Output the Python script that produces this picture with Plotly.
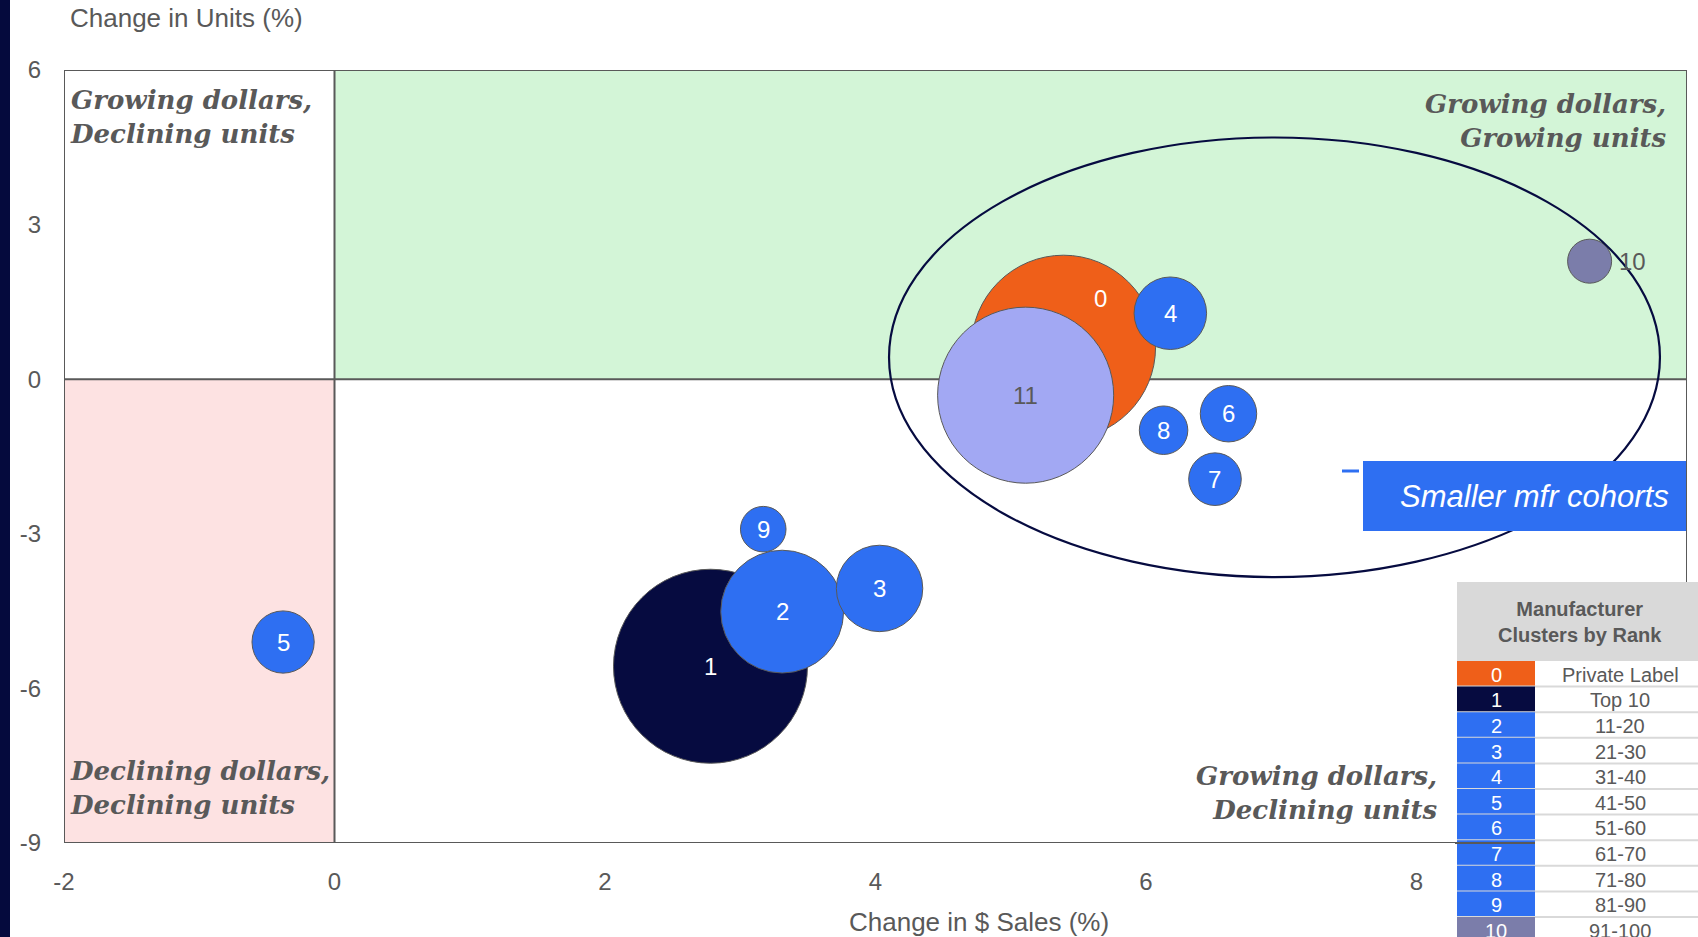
import math
import plotly.graph_objects as go

# ---- data -------------------------------------------------------------
cohort_ids = ["0", "1", "2", "3", "4", "5", "6", "7", "8", "9", "10", "11"]
sales_change = [5.39, 2.78, 3.31, 4.03, 6.18, -0.38, 6.61, 6.51, 6.13, 3.17, 9.28, 5.11]
units_change = [0.62, -5.57, -4.51, -4.06, 1.28, -5.10, -0.67, -1.94, -0.99, -2.91, 2.29, -0.31]
dollar_share = [24.5, 27.2, 10.9, 5.4, 3.8, 2.8, 2.3, 2.0, 1.7, 1.5, 1.4, 22.4]

legend_codes = ["0", "1", "2", "3", "4", "5", "6", "7", "8", "9", "10"]
legend_ranks = ["Private Label", "Top 10", "11-20", "21-30", "31-40", "41-50",
                "51-60", "61-70", "71-80", "81-90", "91-100"]

x_ticks = [-2, 0, 2, 4, 6, 8]
x_tick_text = ["-2", "0", "2", "4", "6", "8"]
y_ticks = [-9, -6, -3, 0, 3, 6]
y_tick_text = ["-9", "-6", "-3", "0", "3", "6"]

# ---- styling ----------------------------------------------------------
ORANGE = "#EF5F19"
NAVY = "#060B40"
BLUE = "#2E6FF2"
SLATE = "#7B7DAA"
LAVENDER = "#A2A8F3"
GREY = "#595959"
FONT = "Liberation Sans"
SERIF = "DejaVu Serif"

cohort_colors = {"0": ORANGE, "1": NAVY, "10": SLATE, "11": LAVENDER}
label_colors = {"10": GREY, "11": GREY}
label_shift = {"0": (37, 49), "10": (43, 0)}

W, H = 1698, 937
ML, MR, MT, MB = 64, 11, 70, 94
PW, PH = W - ML - MR, H - MT - MB
MAX_DIAM = 194


def px(xp):
    return (xp - ML) / PW


def py(yp):
    return (H - MB - yp) / PH


fig = go.Figure()

shapes = []
# quadrant fills
shapes.append(dict(type="rect", xref="x", yref="y", x0=0, x1=10, y0=0, y1=6,
                   fillcolor="#D3F5D7", line_width=0, layer="below"))
shapes.append(dict(type="rect", xref="x", yref="y", x0=-2, x1=0, y0=-9, y1=0,
                   fillcolor="#FDE2E2", line_width=0, layer="below"))

# bubbles, one trace per cohort so later ones sit on top
max_share = max(dollar_share)
annotations = []
for cid, xv, yv, s in zip(cohort_ids, sales_change, units_change, dollar_share):
    d = MAX_DIAM * math.sqrt(s / max_share)
    fig.add_trace(go.Scatter(
        x=[xv], y=[yv], mode="markers",
        marker=dict(size=d, sizemode="diameter", sizeref=1,
                    color=cohort_colors.get(cid, BLUE),
                    line=dict(color=GREY, width=1), opacity=1),
        showlegend=False, hoverinfo="x+y", cliponaxis=False,
    ))
    dx, dy = label_shift.get(cid, (0, 0))
    annotations.append(dict(x=xv, y=yv, xref="x", yref="y", text=cid,
                            showarrow=False, xshift=dx, yshift=dy,
                            font=dict(family=FONT, size=24,
                                      color=label_colors.get(cid, "white"))))

# frame and zero lines
line_style = dict(color=GREY, width=2)
shapes.append(dict(type="rect", xref="x", yref="y", x0=-2, x1=10, y0=-9, y1=6,
                   line=line_style, layer="below"))
shapes.append(dict(type="line", xref="x", yref="y", x0=0, x1=0, y0=-9, y1=6,
                   line=line_style, layer="below"))
shapes.append(dict(type="line", xref="x", yref="y", x0=-2, x1=10, y0=0, y1=0,
                   line=line_style, layer="below"))

# cohort ring
shapes.append(dict(type="circle", xref="x", yref="y", x0=4.10, x1=9.80,
                   y0=-3.84, y1=4.69, line=dict(color=NAVY, width=2.2),
                   fillcolor="rgba(0,0,0,0)", layer="above"))

# callout box
shapes.append(dict(type="line", xref="paper", yref="paper", x0=px(1342), x1=px(1359),
                   y0=py(471), y1=py(471), line=dict(color=BLUE, width=3), layer="above"))
shapes.append(dict(type="rect", xref="paper", yref="paper", x0=px(1363), x1=px(1686),
                   y0=py(531), y1=py(461), fillcolor=BLUE, line_width=0, layer="above"))
annotations.append(dict(xref="paper", yref="paper", x=px(1534), y=py(496),
                        text="<i>Smaller mfr cohorts</i>", showarrow=False,
                        xanchor="center", yanchor="middle",
                        font=dict(family=FONT, size=31, color="white")))

# left band
shapes.append(dict(type="rect", xref="paper", yref="paper", x0=px(0), x1=px(10),
                   y0=py(H), y1=py(0), fillcolor="#050A3D", line_width=0, layer="above"))

# legend table
T_L, T_R, T_SPLIT = 1457, 1698, 1535
HDR_TOP, HDR_BOT = 582, 661
ROW_H = 25.6
shapes.append(dict(type="rect", xref="paper", yref="paper", x0=px(T_L), x1=px(T_R),
                   y0=py(H + 5), y1=py(HDR_TOP), fillcolor="white", line_width=0,
                   layer="above"))
shapes.append(dict(type="rect", xref="paper", yref="paper", x0=px(T_L), x1=px(T_R),
                   y0=py(HDR_BOT), y1=py(HDR_TOP), fillcolor="#D9D9D9", line_width=0,
                   layer="above"))
annotations.append(dict(xref="paper", yref="paper", x=px(1580), y=py(622),
                        text="<b>Manufacturer<br>Clusters by Rank</b>", showarrow=False,
                        xanchor="center", yanchor="middle", align="center",
                        font=dict(family=FONT, size=20, color=GREY)))
for i, (code, rank) in enumerate(zip(legend_codes, legend_ranks)):
    top = HDR_BOT + i * ROW_H
    bot = top + ROW_H
    shapes.append(dict(type="rect", xref="paper", yref="paper", x0=px(T_L), x1=px(T_SPLIT),
                       y0=py(bot), y1=py(top), fillcolor=cohort_colors.get(code, BLUE),
                       line_width=0, layer="above"))
    shapes.append(dict(type="line", xref="paper", yref="paper", x0=px(T_L), x1=px(T_R),
                       y0=py(bot), y1=py(bot), line=dict(color="#D9D9D9", width=2),
                       layer="above"))
    mid = (top + bot) / 2 + 1
    annotations.append(dict(xref="paper", yref="paper", x=px((T_L + T_SPLIT) / 2), y=py(mid),
                            text=code, showarrow=False, xanchor="center", yanchor="middle",
                            font=dict(family=FONT, size=20, color="white")))
    annotations.append(dict(xref="paper", yref="paper", x=px(1620), y=py(mid),
                            text=rank, showarrow=False, xanchor="center", yanchor="middle",
                            font=dict(family=FONT, size=20, color=GREY)))
# axis line running over the colour column
shapes.append(dict(type="line", xref="paper", yref="paper", x0=px(T_L - 2), x1=px(T_SPLIT),
                   y0=0, y1=0, line=dict(color=GREY, width=2), layer="above"))

# quadrant captions
quad_font = dict(family=SERIF, size=26, color=GREY)
for text, xp, yp, anchor in [
    ("Growing dollars,<br>Declining units", 68, 83, "left"),
    ("Growing dollars,<br>Growing units", 1669, 87, "right"),
    ("Declining dollars,<br>Declining units", 68, 754, "left"),
    ("Growing dollars,<br>Declining units", 1440, 759, "right"),
]:
    annotations.append(dict(xref="paper", yref="paper", x=px(xp), y=py(yp),
                            text="<b><i>" + text + "</i></b>", showarrow=False,
                            xanchor=anchor, yanchor="top", align=anchor,
                            font=quad_font))

# axis titles
annotations.append(dict(xref="paper", yref="paper", x=px(68), y=py(18),
                        text="Change in Units (%)", showarrow=False,
                        xanchor="left", yanchor="middle",
                        font=dict(family=FONT, size=26, color=GREY)))
annotations.append(dict(xref="paper", yref="paper", x=px(979), y=py(922),
                        text="Change in $ Sales (%)", showarrow=False,
                        xanchor="center", yanchor="middle",
                        font=dict(family=FONT, size=26, color=GREY)))

fig.update_layout(
    width=W, height=H,
    margin=dict(l=ML, r=MR, t=MT, b=MB, pad=0),
    paper_bgcolor="white", plot_bgcolor="white",
    shapes=shapes, annotations=annotations,
    font=dict(family=FONT, size=22, color=GREY),
    xaxis=dict(range=[-2, 10], tickvals=x_ticks, ticktext=x_tick_text,
               showgrid=False, zeroline=False,
               showline=False, ticks="", ticklabelstandoff=22,
               tickfont=dict(family=FONT, size=24, color=GREY)),
    yaxis=dict(range=[-9, 6], tickvals=y_ticks, ticktext=y_tick_text,
               showgrid=False, zeroline=False,
               showline=False, ticks="", ticklabelstandoff=22,
               tickfont=dict(family=FONT, size=24, color=GREY)),
)

fig.write_html("out.html")
